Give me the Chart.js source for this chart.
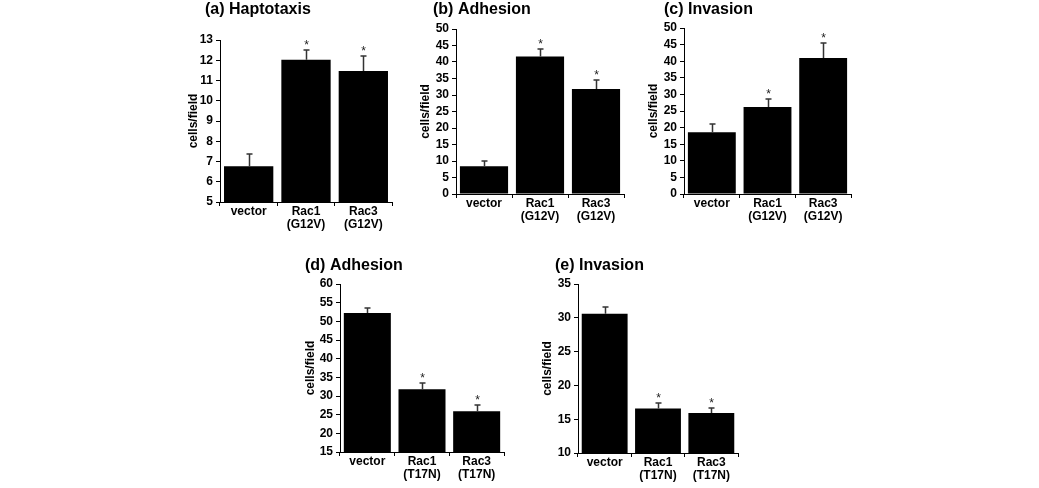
<!DOCTYPE html>
<html>
<head>
<meta charset="utf-8">
<script src="https://cdn.jsdelivr.net/npm/chart.js@4.4.0/dist/chart.umd.min.js"></script>
<style>
    html, body { margin: 0; padding: 0; background: #fff; }
    #figure { position: relative; width: 1039px; height: 488px; overflow: hidden; background: #fff; }
    #figure canvas { position: absolute; }
</style>
</head>
<body>
<div id="figure"></div>
<script>
// Categories
const labelsG12V = ['vector', ['Rac1', '(G12V)'], ['Rac3', '(G12V)']];
const labelsT17N = ['vector', ['Rac1', '(T17N)'], ['Rac3', '(T17N)']];
const starsG12V = [false, true, true];
const starsT17N = [false, true, true];

// (a) Haptotaxis
const haptotaxisMean = [6.77, 12.03, 11.47];
const haptotaxisErr = [0.58, 0.49, 0.73];
const haptotaxisTicks = [5, 13, 1];

// (b) Adhesion, G12V
const adhesionG12VMean = [8.4, 41.7, 31.8];
const adhesionG12VErr = [1.5, 2.2, 2.7];
const adhesionG12VTicks = [0, 50, 5];

// (c) Invasion, G12V
const invasionG12VMean = [18.6, 26.2, 41.0];
const invasionG12VErr = [2.5, 2.4, 4.5];
const invasionG12VTicks = [0, 50, 5];

// (d) Adhesion, T17N
const adhesionT17NMean = [52.2, 31.8, 25.9];
const adhesionT17NErr = [1.5, 1.6, 1.8];
const adhesionT17NTicks = [15, 60, 5];

// (e) Invasion, T17N
const invasionT17NMean = [30.6, 16.6, 15.9];
const invasionT17NErr = [0.95, 0.8, 0.7];
const invasionT17NTicks = [10, 35, 5];

const FONT = "'Liberation Sans', Arial, Helvetica, sans-serif";
const Y_AXIS_W = 48;
const X_AXIS_H = 36;
const PAD_RIGHT = 4;

// Panel placement on the page (plot area edges in page pixels)
const panels = [
    { title: '(a) Haptotaxis', labels: labelsG12V, mean: haptotaxisMean, err: haptotaxisErr, stars: starsG12V, ticks: haptotaxisTicks,
      box: { left: 220, right: 392, top: 40, bottom: 202, canvasTop: 0, titleX: 205, titleY: 10, yTitlePad: 14 } },
    { title: '(b) Adhesion', labels: labelsG12V, mean: adhesionG12VMean, err: adhesionG12VErr, stars: starsG12V, ticks: adhesionG12VTicks,
      box: { left: 456, right: 624, top: 29, bottom: 194, canvasTop: 0, titleX: 433, titleY: 10, yTitlePad: 10 } },
    { title: '(c) Invasion', labels: labelsG12V, mean: invasionG12VMean, err: invasionG12VErr, stars: starsG12V, ticks: invasionG12VTicks,
      box: { left: 684, right: 851, top: 28, bottom: 194, canvasTop: 0, titleX: 664, titleY: 10, yTitlePad: 10 } },
    { title: '(d) Adhesion', labels: labelsT17N, mean: adhesionT17NMean, err: adhesionT17NErr, stars: starsT17N, ticks: adhesionT17NTicks,
      box: { left: 340, right: 504, top: 284, bottom: 452, canvasTop: 250, titleX: 305, titleY: 266, yTitlePad: 11 } },
    { title: '(e) Invasion', labels: labelsT17N, mean: invasionT17NMean, err: invasionT17NErr, stars: starsT17N, ticks: invasionT17NTicks,
      box: { left: 578, right: 738, top: 284, bottom: 453, canvasTop: 250, titleX: 555, titleY: 266, yTitlePad: 10 } }
];

// Error bars (upper only) with significance stars
const errorBarPlugin = {
    id: 'errorBars',
    afterDatasetsDraw(chart, args, opts) {
        const meta = chart.getDatasetMeta(0);
        const yScale = chart.scales.y;
        const values = chart.data.datasets[0].data;
        const ctx = chart.ctx;
        ctx.save();
        ctx.strokeStyle = '#333';
        ctx.lineWidth = 1.5;
        ctx.fillStyle = '#222';
        ctx.font = '12px ' + FONT;
        ctx.textAlign = 'center';
        ctx.textBaseline = 'alphabetic';
        meta.data.forEach((bar, i) => {
            const top = Math.round(yScale.getPixelForValue(values[i] + opts.err[i]));
            const x = Math.round(bar.x) + 0.5;
            ctx.beginPath();
            ctx.moveTo(x, bar.y);
            ctx.lineTo(x, top);
            ctx.moveTo(x - 3, top);
            ctx.lineTo(x + 3, top);
            ctx.stroke();
            if (opts.stars[i]) {
                ctx.fillText('*', x, top - 1);
            }
        });
        ctx.restore();
    }
};

// Panel title, placed relative to the page
const panelTitlePlugin = {
    id: 'panelTitle',
    afterDraw(chart, args, opts) {
        const ctx = chart.ctx;
        ctx.save();
        ctx.fillStyle = '#000';
        ctx.font = 'bold 16px ' + FONT;
        ctx.textAlign = 'left';
        ctx.textBaseline = 'middle';
        ctx.fillText(opts.text, opts.x, opts.y);
        ctx.restore();
    }
};

const figure = document.getElementById('figure');

panels.forEach(p => {
    const b = p.box;
    const canvasLeft = b.left - Y_AXIS_W;
    const width = (b.right - b.left) + Y_AXIS_W + PAD_RIGHT;
    const height = (b.bottom - b.canvasTop) + X_AXIS_H;

    const canvas = document.createElement('canvas');
    canvas.width = width;
    canvas.height = height;
    canvas.style.left = canvasLeft + 'px';
    canvas.style.top = b.canvasTop + 'px';
    canvas.style.width = width + 'px';
    canvas.style.height = height + 'px';
    figure.appendChild(canvas);

    new Chart(canvas, {
        type: 'bar',
        data: {
            labels: p.labels,
            datasets: [{
                data: p.mean,
                backgroundColor: '#000',
                borderWidth: 0,
                barPercentage: 0.86,
                categoryPercentage: 1.0
            }]
        },
        options: {
            responsive: false,
            animation: false,
            devicePixelRatio: 1,
            layout: {
                padding: { top: b.top - b.canvasTop, right: PAD_RIGHT, bottom: 0, left: 0 }
            },
            scales: {
                x: {
                    grid: {
                        display: true,
                        drawOnChartArea: false,
                        drawTicks: true,
                        tickLength: 4,
                        offset: true,
                        color: '#000',
                        tickColor: '#000'
                    },
                    border: { display: true, color: '#000', width: 1 },
                    ticks: {
                        color: '#000',
                        font: { family: FONT, size: 12, weight: 'bold', lineHeight: 1.1 },
                        padding: -1,
                        maxRotation: 0,
                        autoSkip: false
                    },
                    afterFit(scale) { scale.height = X_AXIS_H; }
                },
                y: {
                    min: p.ticks[0],
                    max: p.ticks[1],
                    grid: {
                        display: true,
                        drawOnChartArea: false,
                        drawTicks: true,
                        tickLength: 4,
                        color: '#000',
                        tickColor: '#000'
                    },
                    border: { display: true, color: '#000', width: 1 },
                    ticks: {
                        stepSize: p.ticks[2],
                        autoSkip: false,
                        color: '#000',
                        font: { family: FONT, size: 12, weight: 'bold' },
                        padding: 3
                    },
                    title: {
                        display: true,
                        text: 'cells/field',
                        color: '#000',
                        font: { family: FONT, size: 12, weight: 'bold', lineHeight: 1.2 },
                        padding: { top: b.yTitlePad, bottom: 0 }
                    },
                    afterFit(scale) { scale.width = Y_AXIS_W; }
                }
            },
            plugins: {
                legend: { display: false },
                tooltip: { enabled: false },
                title: { display: false },
                errorBars: { err: p.err, stars: p.stars },
                panelTitle: { text: p.title, x: b.titleX - canvasLeft, y: b.titleY - b.canvasTop }
            }
        },
        plugins: [errorBarPlugin, panelTitlePlugin]
    });
});
</script>
</body>
</html>
